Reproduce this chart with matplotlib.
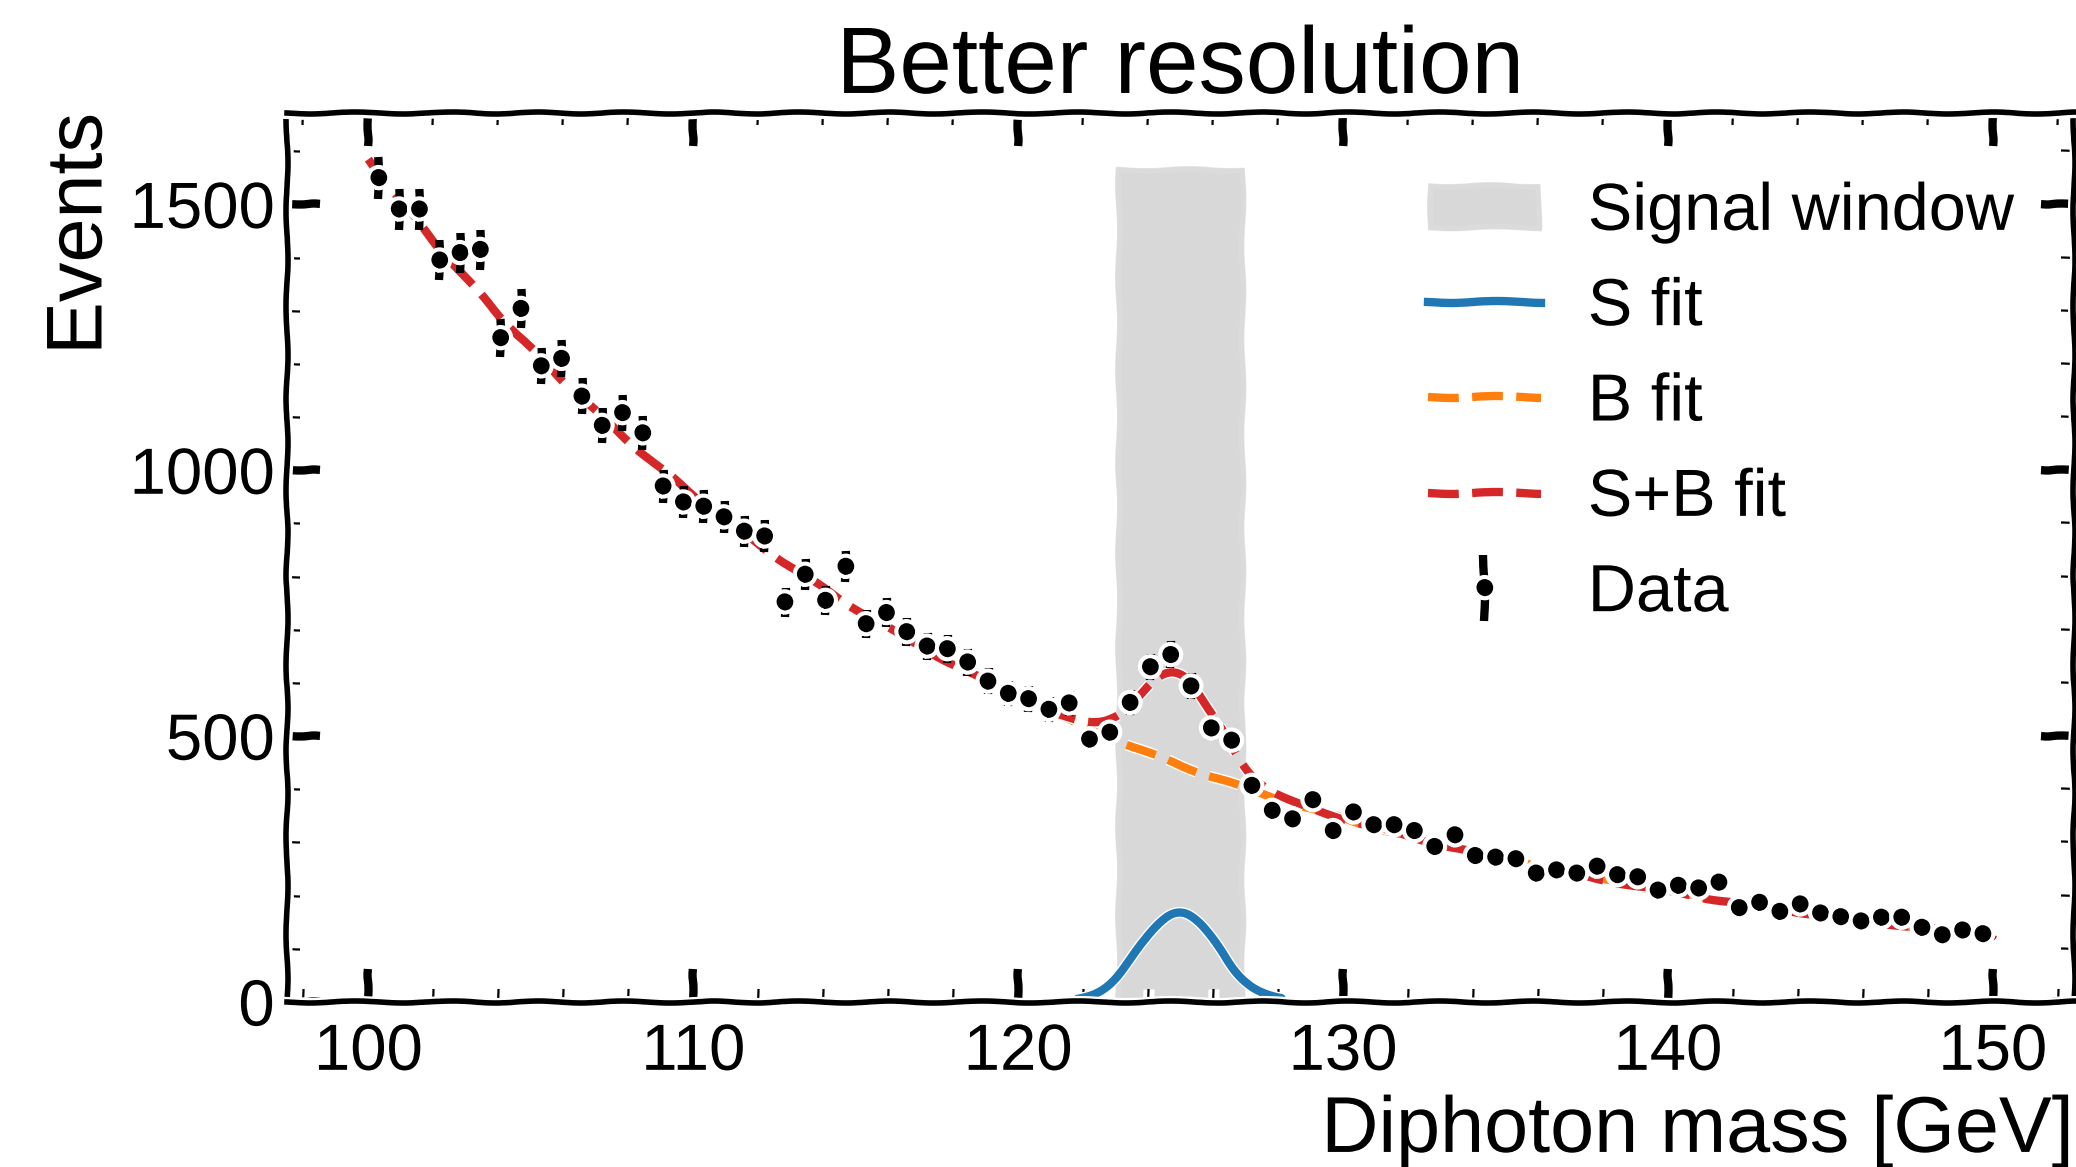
import numpy as np
import matplotlib
matplotlib.use("Agg")
import matplotlib.pyplot as plt
from matplotlib.ticker import MultipleLocator

# --- data ---
bin_edges = np.linspace(100, 150, 81)          # 80 bins of 0.625 GeV
counts = [1550, 1491, 1491, 1395, 1409, 1415, 1249, 1304, 1196, 1210,
          1139, 1084, 1108, 1070, 970, 940, 932, 912, 885, 876,
          752, 804, 755, 819, 711, 732, 696, 669, 664, 639,
          603, 580, 570, 550, 562, 494, 507, 563, 630, 653,
          594, 515, 492, 407, 360, 344, 380, 322, 357, 333,
          333, 322, 292, 314, 275, 272, 269, 242, 248, 242,
          255, 239, 235, 210, 219, 214, 225, 177, 187, 170,
          184, 167, 160, 152, 159, 159, 140, 126, 135, 128]

# fit results
b_norm, b_slope = 1585.0, 0.0508     # B = b_norm * exp(-b_slope*(m-100))
s_amp, s_mean, s_sigma = 170.0, 124.95, 1.2
s_range = (121.9, 128.1)
window = (123, 127)
window_top = 1570
y_max = 1672

centers = 0.5 * (bin_edges[1:] + bin_edges[:-1])
counts = np.array(counts, dtype=float)
errs = np.sqrt(counts)

m = np.linspace(100, 150, 600)
bkg = b_norm * np.exp(-b_slope * (m - 100))
sig = s_amp * np.exp(-0.5 * ((m - s_mean) / s_sigma) ** 2)
ms = np.linspace(s_range[0], s_range[1], 200)
sig_only = s_amp * np.exp(-0.5 * ((ms - s_mean) / s_sigma) ** 2)

plt.xkcd()
plt.rcParams['font.family'] = ['Liberation Sans', 'DejaVu Sans']

fig = plt.figure(figsize=(10.38, 5.835), dpi=200)
ax = fig.add_axes([0.1383, 0.1414, 0.8607, 0.7618])

# xkcd stroke effect paints the face twice, so a light alpha is used
ax.axvspan(window[0], window[1], ymin=0, ymax=window_top / y_max,
           color='gray', alpha=0.165, lw=0, label='Signal window')
ax.plot(ms, sig_only, color='tab:blue', lw=3, label='S fit')
ax.plot(m, bkg, color='tab:orange', ls='--', lw=3, label='B fit')
ax.plot(m, bkg + sig, color='tab:red', ls='--', lw=3, label='S+B fit')
ax.errorbar(centers, counts, yerr=errs, fmt='o', color='k', ms=5,
            elinewidth=3, label='Data')

ax.set_xlim(97.5, 152.5)
ax.set_ylim(0, y_max)
ax.xaxis.set_major_locator(MultipleLocator(10))
ax.xaxis.set_minor_locator(MultipleLocator(2))
ax.yaxis.set_major_locator(MultipleLocator(500))
ax.yaxis.set_minor_locator(MultipleLocator(100))
ax.tick_params(which='both', direction='in', top=True, right=True)
ax.tick_params(which='major', length=12, width=3)
ax.tick_params(which='minor', length=4.5, width=0.8)
ax.tick_params(axis='x', which='both', labelsize=23.5, pad=7.5)
ax.tick_params(axis='y', which='both', labelsize=23.5, pad=4.5)
for s in ax.spines.values():
    s.set_linewidth(2)

ax.set_title('Better resolution', fontsize=34, pad=1)
ax.set_xlabel('Diphoton mass [GeV]', fontsize=28.5, loc='right')
ax.set_ylabel('Events', fontsize=28.5, loc='top')
ax.legend(loc='upper right', bbox_to_anchor=(1.0, 0.99), frameon=False,
          fontsize=24, handlelength=1.7, handletextpad=0.7, labelspacing=0.5)

fig.savefig('out.png', dpi=200)
